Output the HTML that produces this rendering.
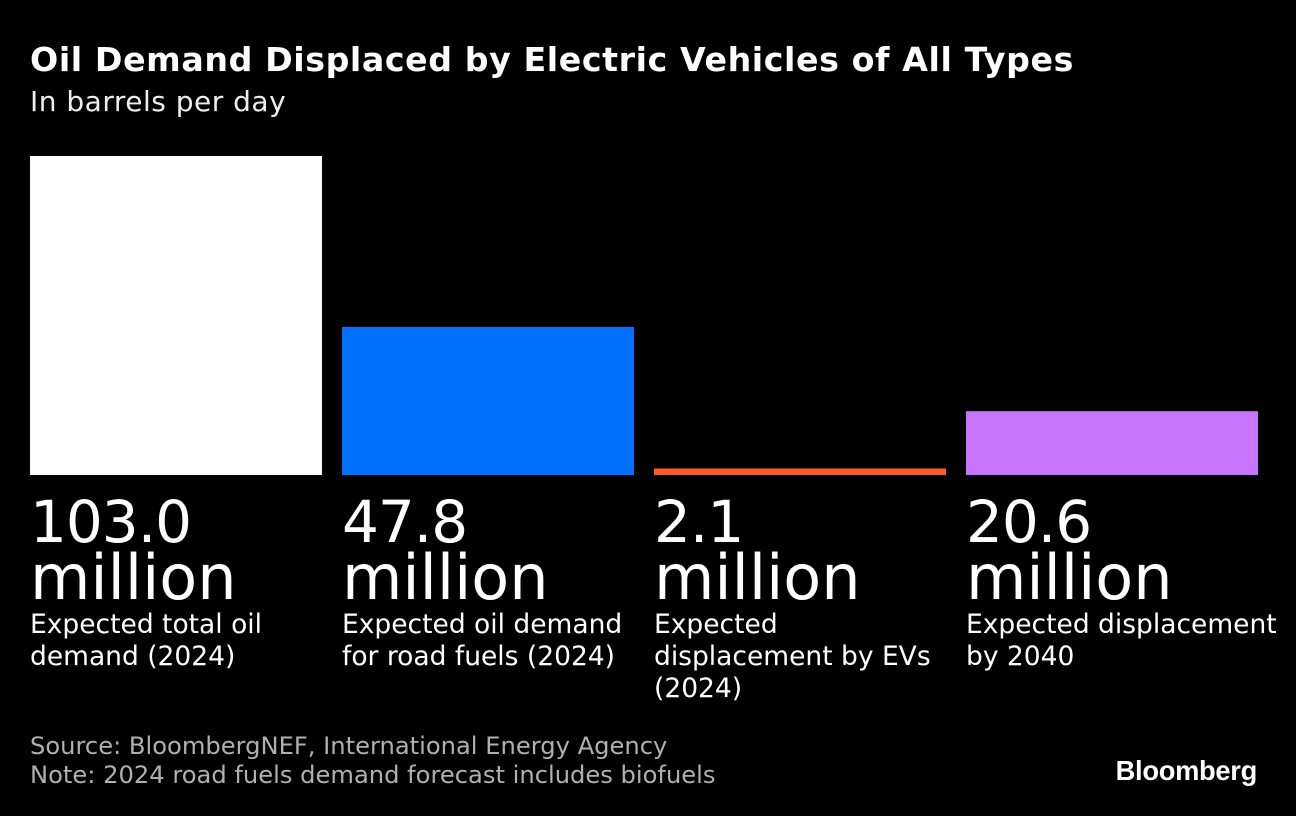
<!DOCTYPE html>
<html><head><meta charset="utf-8">
<style>
html,body{margin:0;padding:0;background:#000;width:1296px;height:816px;overflow:hidden;}
body{font-family:"DejaVu Sans","Liberation Sans",sans-serif;color:#fff;position:relative;}
.abs{position:absolute;white-space:nowrap;}
#title{left:30px;top:40px;font-size:33.2px;font-weight:bold;letter-spacing:0.6px;}
#subtitle{left:30px;top:85px;font-size:28px;letter-spacing:0.5px;color:#eee;}
.big{position:absolute;font-size:58px;line-height:56px;white-space:nowrap;}
.big .num{letter-spacing:-1px;}
.big .mil{font-size:62px;}
.lbl{position:absolute;font-size:26.5px;line-height:32px;color:#fff;white-space:nowrap;}
.src{font-size:24.2px;color:#b0b0b0;left:30px;}
#logo{right:39px;top:755px;font-size:27.3px;font-weight:bold;font-family:"Liberation Sans",sans-serif;letter-spacing:-0.3px;}
</style></head>
<body>
<div id="title" class="abs">Oil Demand Displaced by Electric Vehicles of All Types</div>
<div id="subtitle" class="abs">In barrels per day</div>
<svg id="chart" width="1296" height="816" style="position:absolute;left:0;top:0"></svg>
<div id="labels"></div>
<div class="abs src" style="top:732px">Source: BloombergNEF, International Energy Agency</div>
<div class="abs src" style="top:761px">Note: 2024 road fuels demand forecast includes biofuels</div>
<div id="logo" class="abs">Bloomberg</div>
<script>
const categories = ["Expected total oil<br>demand (2024)","Expected oil demand<br>for road fuels (2024)","Expected<br>displacement by EVs<br>(2024)","Expected displacement<br>by 2040"];
const values = [103.0, 47.8, 2.1, 20.6];
const valueLabels = ["103.0","47.8","2.1","20.6"];
const colors = ["#ffffff","#0070ff","#ff5a2d","#c774ff"];
const baseY = 475, maxH = 319, x0 = 30, bw = 292, gap = 20;
const maxV = Math.max(...values);
function y(v){ return baseY - v / maxV * maxH; }
function x(i){ return x0 + i * (bw + gap); }
const svg = document.getElementById('chart');
const lab = document.getElementById('labels');
values.forEach((v,i)=>{
  const r = document.createElementNS('http://www.w3.org/2000/svg','rect');
  r.setAttribute('x', x(i)); r.setAttribute('y', y(v));
  r.setAttribute('width', bw); r.setAttribute('height', baseY - y(v));
  r.setAttribute('fill', colors[i]);
  
  
  svg.appendChild(r);
  const b = document.createElement('div');
  b.className = 'big';
  b.style.left = x(i) + 'px'; b.style.top = '494px';
  b.innerHTML = '<span class="num">' + valueLabels[i] + '</span><br><span class="mil">million</span>';
  
  
  lab.appendChild(b);
  const c = document.createElement('div');
  c.className = 'lbl';
  c.style.left = x(i) + 'px'; c.style.top = '609px';
  c.innerHTML = categories[i];
  
  
  lab.appendChild(c);
});
</script>
</body></html>
